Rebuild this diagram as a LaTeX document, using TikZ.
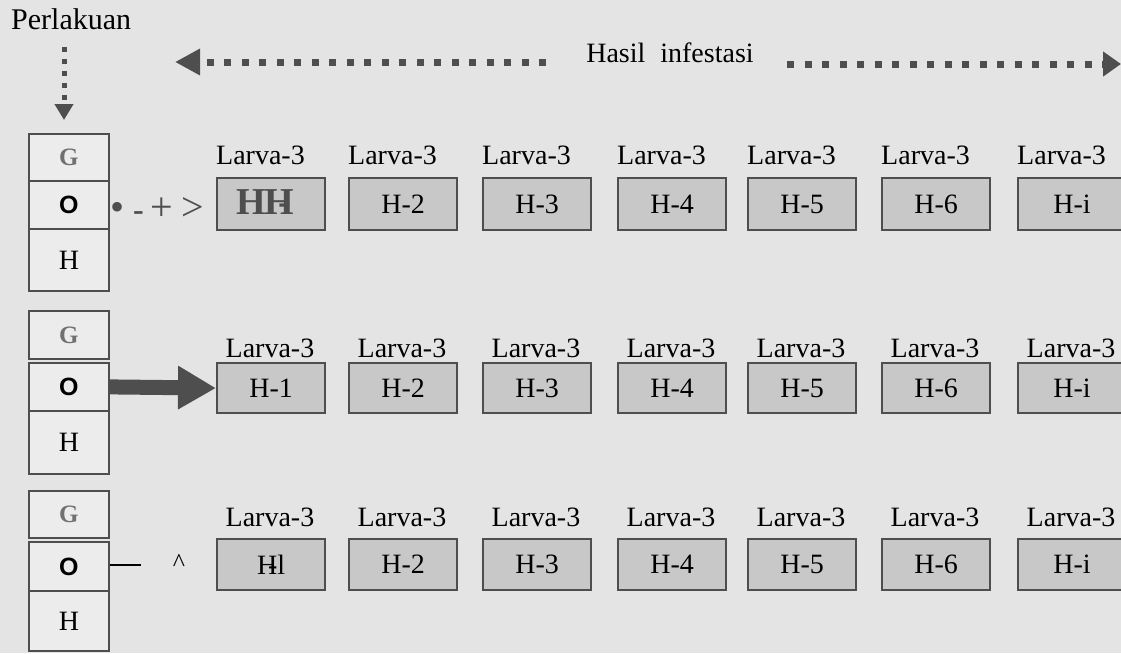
\documentclass[tikz,border=0pt]{standalone}
\usepackage{fontspec}
\setmainfont{Liberation Serif}
\newfontfamily\sansbold{Liberation Sans}
\usetikzlibrary{arrows.meta}

\definecolor{paper}{HTML}{E4E4E4}
\definecolor{ink}{HTML}{4E4E4E}
\definecolor{cellfill}{HTML}{C8C8C8}
\definecolor{colfill}{HTML}{ECECEC}
\definecolor{glabel}{HTML}{707070}

\tikzset{
  txt/.style={inner sep=0pt, font=\fontsize{28}{30}\selectfont},
  colbox/.style={draw=ink, line width=1.8pt, fill=colfill, minimum width=80pt,
    inner sep=0pt, anchor=north west},
  cell/.style={draw=ink, line width=2.2pt, fill=cellfill, minimum width=108pt,
    inner sep=0pt, anchor=north west, font=\fontsize{28}{30}\selectfont},
  glab/.style={text=glabel, font=\fontsize{25}{27}\selectfont\bfseries},
  olab/.style={font=\sansbold\bfseries\fontsize{25}{27}\selectfont},
  hlab/.style={font=\fontsize{28}{30}\selectfont},
  dotline/.style={draw=ink, line width=7pt, dash pattern=on 7pt off 10.5pt},
  smalldots/.style={draw=ink, line width=5pt, dash pattern=on 5pt off 7pt},
  bigarrow/.style={draw=ink, line width=15pt, -{Triangle[length=38pt,width=41pt]}},
}

\begin{document}
\begin{tikzpicture}[x=1pt,y=-1pt]
\useasboundingbox (0,0) rectangle (1121,653);
\clip (0,0) rectangle (1121,653);
\fill[paper] (0,0) rectangle (1121,653);

% headings
\node[txt, anchor=west, font=\fontsize{30}{32}\selectfont] (perl) at (11,19) {Perlakuan};
\node[txt] (hasil) at (670,53) {Hasil\hspace{15pt}infestasi};

% treatment columns: G / O / H
\node[colbox, minimum height=47pt, glab] (g1) at (28,133) {G};
\node[colbox, minimum height=48pt, olab] (o1) at (28,180) {O};
\node[colbox, minimum height=62pt, hlab] (h1) at (28,228) {H};
\node[colbox, minimum height=48pt, glab] (g2) at (28,310) {G};
\node[colbox, minimum height=48pt, olab] (o2) at (28,362) {O};
\node[colbox, minimum height=63pt, hlab] (h2) at (28,410) {H};
\node[colbox, minimum height=47pt, glab] (g3) at (28,490) {G};
\node[colbox, minimum height=49pt, olab] (o3) at (28,541) {O};
\node[colbox, minimum height=60pt, hlab] (h3) at (28,590) {H};

% Perlakuan arrow down to the first column
\coordinate (vtop) at (64,47);
\draw[smalldots, -{Triangle[length=16pt,width=18pt]}, shorten >=13pt]
  (vtop) -- (vtop |- g1.north);

% Hasil infestasi arrows
\coordinate (lstart) at (546,62);
\coordinate (lend) at (175,62);
\coordinate (rstart) at (787,64);
\coordinate (rend) at (1121,64);
\draw[dotline, -{Triangle[length=25pt,width=25pt]}] (lstart) -- (lend);
\draw[dotline, -{Triangle[length=18pt,width=24pt]}] (rstart) -- (rend);

% day cells, three rows
\foreach \x/\t [count=\i] in {216/H-1,348/H-2,482/H-3,617/H-4,747/H-5,881/H-6,1017/H-i}{
  % row 1
  \ifnum\i=1
    \node[cell, minimum height=52pt] (a\i) at (\x,177) {};
  \else
    \node[cell, minimum height=52pt] (a\i) at (\x,177) {\t};
  \fi
  \node[txt, anchor=base west] (la\i) at (\x,164) {Larva-3};
  % row 2
  \node[cell, minimum height=50pt] (b\i) at (\x,362) {\t};
  \node[txt, anchor=base] (lb\i) at (\x+54,357) {Larva-3};
  % row 3
  \ifnum\i=1
    \node[cell, minimum height=51pt] (c\i) at (\x,538) {H\kern-9.3pt-l};
  \else
    \node[cell, minimum height=51pt] (c\i) at (\x,538) {\t};
  \fi
  \node[txt, anchor=base] (lc\i) at (\x+54,526) {Larva-3};
}

% first cell of row 1
\node[text=ink, inner sep=0pt, font=\fontsize{38}{40}\selectfont\bfseries]
  (a1txt) at ([xshift=-6pt,yshift=2pt]a1.center) {H\kern-1pt H\llap{-\kern3pt}};

% links from each O cell to its first day cell
\node[inner sep=0pt, text=ink, anchor=base west, font=\fontsize{40}{44}\selectfont]
  (link1) at (110,220) {{\fontsize{40}{44}\selectfont•}\hspace{9pt}{\fontsize{32}{36}\selectfont\bfseries-}\hspace{7pt}+\hspace{8pt}>};
\draw[bigarrow] (o2.east) -- (b1.west);
\coordinate (dashend) at (141,565);
\draw[line width=1.3pt, black] (o3.east |- dashend) -- (dashend);
\node[inner sep=0pt, font=\fontsize{26}{28}\selectfont] (caret) at (179,563) {\textasciicircum};

\end{tikzpicture}
\end{document}
